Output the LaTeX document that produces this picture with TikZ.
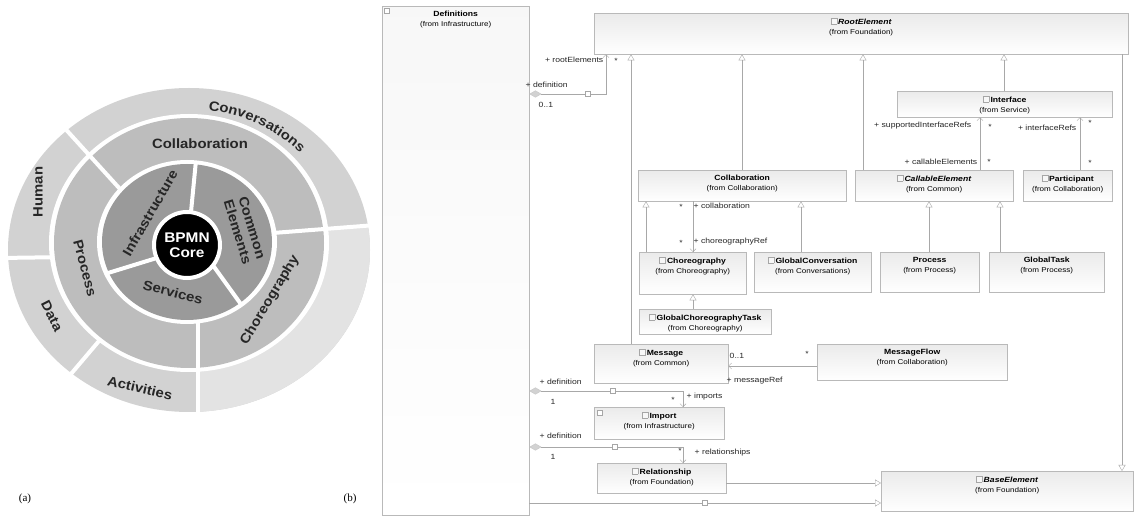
\documentclass[tikz,border=0pt]{standalone}
\usepackage{fontspec}
\setmainfont{Liberation Sans}
\newfontfamily\umlfont[FakeStretch=1.15]{Liberation Sans}
\newfontfamily\ringfont[FakeStretch=1.1]{Liberation Sans}
\newfontfamily\capfont{Liberation Serif}
\usetikzlibrary{arrows.meta, decorations.text}
\definecolor{ringout}{HTML}{D2D2D2}
\definecolor{ringlite}{HTML}{E3E3E3}
\definecolor{ringmid}{HTML}{BDBDBD}
\definecolor{ringin}{HTML}{9A9A9A}
\definecolor{ringink}{HTML}{262626}
\definecolor{umlline}{HTML}{A8A8A8}
\setlength{\fboxsep}{0pt}
\setlength{\fboxrule}{0.4pt}
\newcommand{\ringstyle}{\ringfont\bfseries\fontsize{13.5pt}{15pt}\selectfont}
\newcommand{\clsicon}{\fcolorbox{gray!70}{gray!6}{\rule{0pt}{5.5pt}\rule{5.5pt}{0pt}}\,}
\newcommand{\clsbody}[4]{\parbox[c][#2][t]{#1}{\centering\vspace{5pt}#3\\[1pt]{\fontsize{7pt}{8.5pt}\selectfont(from #4)}}}

\begin{document}
\begin{tikzpicture}[x=1pt, y=-1pt,
    cls/.style={draw=gray!55, top color=gray!16, bottom color=white, inner sep=0pt, anchor=north west, font=\umlfont\fontsize{7.5pt}{9pt}\selectfont},
    role/.style={font=\umlfont\fontsize{7.5pt}{9pt}\selectfont, inner sep=0.5pt, text=black!85},
    lnk/.style={draw=gray!70, fill=white, minimum size=5pt, inner sep=0pt},
    gen/.style={draw=umlline, arrows={-Triangle[open, length=6pt, width=7pt]}},
    assoc/.style={draw=umlline, arrows={-Straight Barb[length=3pt, width=6pt]}},
    comp/.style={draw=umlline, arrows={Diamond[length=12pt, width=7pt, fill=gray!35, color=gray!45]-Straight Barb[length=3pt, width=6pt]}},
    ringlbl/.style={font=\ringstyle, text=ringink, inner sep=0pt},
    gap/.style={white, line width=4pt},
    core/.style={circle, fill=black, draw=white, line width=4pt, minimum size=66pt, inner sep=0pt, text=white, align=center, font=\ringfont\bfseries\fontsize{14pt}{15pt}\selectfont},
]
\path[use as bounding box, fill=white] (0,0) rectangle (1136,518);

\coordinate (ctr-out) at (189,250);
\coordinate (ctr-mid) at (189,243);
\coordinate (ctr-in) at (187,242);
\begin{scope}
  \clip (ctr-out) ellipse[x radius=181pt, y radius=162pt];
  \fill[ringout] (0,0) rectangle (400,518);
  \fill[ringlite] (198,430) -- (198,240) -- (273,233) -- (390,224) -- (390,430) -- cycle;
\end{scope}
\draw[gap] (0,258) -- (70,257);
\draw[gap] (65,381) -- (110,328);
\fill[white] (ctr-mid) ellipse[x radius=140pt, y radius=129pt];
\fill[ringmid] (ctr-mid) ellipse[x radius=135pt, y radius=125pt];
\draw[gap] (50,112) -- (130,200);
\draw[gap] (198,300) -- (198,420);
\draw[gap] (260,234) -- (376,225);
\fill[white] (ctr-in) ellipse[x radius=90pt, y radius=82pt];
\fill[ringin] (ctr-in) ellipse[x radius=85pt, y radius=78pt];
\begin{scope}
  \clip (ctr-in) ellipse[x radius=87pt, y radius=80pt];
  \draw[gap] (197,150) -- (191,212);
  \draw[gap] (95,277) -- (160,257);
  \draw[gap] (212,264) -- (248,314);
\end{scope}
\node[core] (core) at (187,245) {BPMN\\Core};
\path[decorate, decoration={text along path, text align=center, text={|\ringstyle\color{ringink}|Conversations}}]
  ([shift={(88:153pt and 141pt)}]ctr-out) arc[start angle=88, end angle=38, x radius=153pt, y radius=141pt];
\node[ringlbl] (lb-collab) at (200,144) {Collaboration};
\node[ringlbl, rotate=90] (lb-human) at (38,192) {Human};
\node[ringlbl, rotate=-63] (lb-data) at (52,316) {Data};
\node[ringlbl, rotate=-13] (lb-act) at (140,388) {Activities};
\node[ringlbl, rotate=-75] (lb-proc) at (85,268) {Process};
\node[ringlbl, rotate=59] (lb-chor) at (270,300) {Choreography};
\node[ringlbl, rotate=60] (lb-infra) at (150,213) {Infrastructure};
\node[ringlbl, rotate=-73, align=center] (lb-common) at (245,230) {Common\\Elements};
\node[ringlbl, rotate=-14] (lb-serv) at (173,292) {Services};

\node[cls, top color=gray!6] (defs) at (382,6) {\clsbody{147pt}{509pt}{\textbf{Definitions}}{Infrastructure}};
\node[cls] (root) at (594,13) {\clsbody{534pt}{41pt}{\clsicon\textbf{\textit{RootElement}}}{Foundation}};
\node[cls] (iface) at (897,91) {\clsbody{215pt}{26pt}{\clsicon\textbf{Interface}}{Service}};
\node[cls] (collab) at (638,170) {\clsbody{208pt}{31pt}{\textbf{Collaboration}}{Collaboration}};
\node[cls] (callable) at (855,170) {\clsbody{158pt}{31pt}{\clsicon\textbf{\textit{CallableElement}}}{Common}};
\node[cls] (partic) at (1023,170) {\clsbody{89pt}{31pt}{\clsicon\textbf{Participant}}{Collaboration}};
\node[cls] (choreo) at (639,252) {\clsbody{107pt}{42pt}{\clsicon\textbf{Choreography}}{Choreography}};
\node[cls] (gconv) at (754,252) {\clsbody{117pt}{40pt}{\clsicon\textbf{GlobalConversation}}{Conversations}};
\node[cls] (process) at (880,252) {\clsbody{99pt}{40pt}{\textbf{Process}}{Process}};
\node[cls] (gtask) at (989,252) {\clsbody{115pt}{40pt}{\textbf{GlobalTask}}{Process}};
\node[cls] (gct) at (639,309) {\clsbody{132pt}{25pt}{\clsicon\textbf{GlobalChoreographyTask}}{Choreography}};
\node[cls] (msg) at (594,344) {\clsbody{134pt}{39pt}{\clsicon\textbf{Message}}{Common}};
\node[cls] (msgflow) at (817,344) {\clsbody{190pt}{36pt}{\textbf{MessageFlow}}{Collaboration}};
\node[cls] (imp) at (594,407) {\clsbody{130pt}{32pt}{\clsicon\textbf{Import}}{Infrastructure}};
\node[cls] (rel) at (597,463) {\clsbody{129pt}{30pt}{\clsicon\textbf{Relationship}}{Foundation}};
\node[cls] (base) at (881,471) {\clsbody{252pt}{40pt}{\clsicon\textbf{\textit{BaseElement}}}{Foundation}};
\node[lnk] (lk-defs) at (387,11) {};
\node[lnk] (lk-impc) at (600,413) {};

\draw[gen] (msg.north -| 631,0) -- (root.south -| 631,0);
\draw[gen] (collab.north -| 742,0) -- (root.south -| 742,0);
\draw[gen] (callable.north -| 863,0) -- (root.south -| 863,0);
\draw[gen] (iface.north -| 1004,0) -- (root.south -| 1004,0);
\draw[gen] (root.south -| 1122,0) -- (base.north -| 1122,0);
\draw[gen] (choreo.north -| 646,0) -- (collab.south -| 646,0);
\draw[gen] (gconv.north -| 801,0) -- (collab.south -| 801,0);
\draw[gen] (process.north -| 929,0) -- (callable.south -| 929,0);
\draw[gen] (gtask.north -| 1000,0) -- (callable.south -| 1000,0);
\draw[gen] (gct.north -| 693,0) -- (choreo.south -| 693,0);
\draw[gen] (rel.east |- 0,483) -- (base.west |- 0,483);
\draw[gen] (defs.east |- 0,503) -- (base.west |- 0,503);
\draw[assoc] (callable.north -| 980,0) -- (iface.south -| 980,0);
\draw[assoc] (partic.north -| 1080,0) -- (iface.south -| 1080,0);
\draw[assoc] (collab.south -| 693,0) -- (choreo.north -| 693,0);
\draw[assoc] (msgflow.west |- 0,366) -- (msg.east |- 0,366);
\draw[comp] (defs.east |- 0,94) -| (root.south -| 606,0);
\draw[comp] (defs.east |- 0,391) -| (imp.north -| 683,0);
\draw[comp] (defs.east |- 0,447) -| (rel.north -| 683,0);
\node[lnk] (lk-root) at (588,94) {};
\node[lnk] (lk-imp) at (613,391) {};
\node[lnk] (lk-rel) at (615,447) {};
\node[lnk] (lk-base) at (705,503) {};

\node[role, anchor=east] (r-root) at (604,60) {+ rootElements};
\node[role] (m-root) at (616,61) {*};
\node[role, anchor=west] (r-def1) at (525,85) {+ definition};
\node[role, anchor=west] (m-def1) at (538,105) {0..1};
\node[role, anchor=east] (r-sup) at (972,126) {+ supportedInterfaceRefs};
\node[role] (m-sup) at (990,127) {*};
\node[role, anchor=east] (r-call) at (978,162) {+ callableElements};
\node[role] (m-call) at (989,162) {*};
\node[role, anchor=east] (r-ifr) at (1077,128) {+ interfaceRefs};
\node[role] (m-ifr) at (1090,123) {*};
\node[role] (m-part) at (1090,163) {*};
\node[role] (m-coll) at (681,207) {*};
\node[role, anchor=west] (r-coll) at (693,206) {+ collaboration};
\node[role] (m-chor) at (681,243) {*};
\node[role, anchor=west] (r-chor) at (693,242) {+ choreographyRef};
\node[role, anchor=west] (m-mref) at (729,356) {0..1};
\node[role] (m-flow) at (807,354) {*};
\node[role, anchor=west] (r-mref) at (726,381) {+ messageRef};
\node[role, anchor=west] (r-def2) at (539,382) {+ definition};
\node[role] (m-def2) at (553,402) {1};
\node[role] (m-imp) at (673,400) {*};
\node[role, anchor=west] (r-imp) at (686,397) {+ imports};
\node[role, anchor=west] (r-def3) at (539,436) {+ definition};
\node[role] (m-def3) at (553,457) {1};
\node[role] (m-rel) at (680,451) {*};
\node[role, anchor=west] (r-rel) at (694,453) {+ relationships};

\node[font=\capfont\fontsize{11pt}{13pt}\selectfont] (cap-a) at (25,499) {(a)};
\node[font=\capfont\fontsize{11pt}{13pt}\selectfont] (cap-b) at (350,499) {(b)};
\end{tikzpicture}
\end{document}
